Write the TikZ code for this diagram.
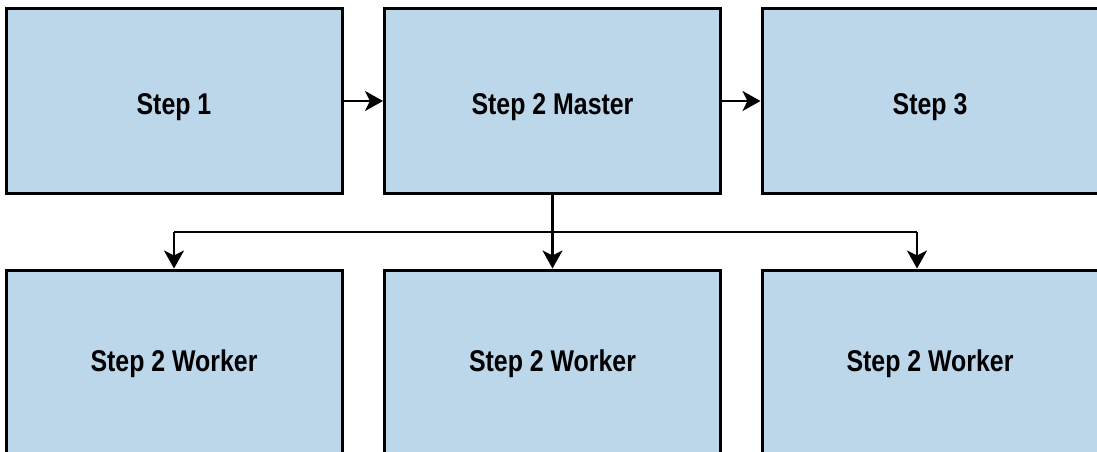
\documentclass[tikz,border=0pt]{standalone}
\usepackage{fontspec}
\setmainfont{Liberation Sans}[FakeStretch=0.83]
\usetikzlibrary{arrows.meta}
\definecolor{boxfill}{HTML}{BDD7EA}
% label with its baseline set a fixed distance below the box centre
\newcommand{\boxlabel}[2][13pt]{\smash{\raisebox{-#1}{#2}}}
\tikzset{
  stagebox/.style={draw=black, line width=3pt, fill=boxfill,
    minimum width=336pt, minimum height=184pt, inner sep=0pt,
    font=\fontsize{30}{34}\selectfont\bfseries},
  flow/.style={line width=2.5pt, -{Stealth[length=18pt,width=20pt,inset=5pt]}},
  link/.style={line width=2.5pt}
}
\begin{document}
\begin{tikzpicture}[x=1pt,y=-1pt]
  \useasboundingbox (0,0) rectangle (1097,452);
  \clip (0,0) rectangle (1097,452);
  % top row
  \node[stagebox] (s1) at (174,101) {\boxlabel{Step 1}};
  \node[stagebox] (m)  at (552.5,101) {\boxlabel{Step 2 Master}};
  \node[stagebox] (s3) at (930,101) {\boxlabel{Step 3}};
  % worker row
  \node[stagebox] (w1) at (174,362) {\boxlabel[9.5pt]{Step 2 Worker}};
  \node[stagebox] (w2) at (552.5,362) {\boxlabel[9.5pt]{Step 2 Worker}};
  \node[stagebox] (w3) at (930,362) {\boxlabel[9.5pt]{Step 2 Worker}};
  % sequence arrows
  \draw[flow] (s1.east) -- (m.west);
  \draw[flow] (m.east) -- (s3.west);
  % fan-out to workers
  \coordinate (split) at (552.5,232);
  \coordinate (lt) at (174,232);
  \coordinate (rt) at (917,232);
  \draw[link] (m.south) -- (split);
  \draw[link] (lt) -- (rt);
  \draw[flow] (lt) -- (lt |- w1.north);
  \draw[flow] (split) -- (w2.north);
  \draw[flow] (rt) -- (rt |- w3.north);
\end{tikzpicture}
\end{document}
